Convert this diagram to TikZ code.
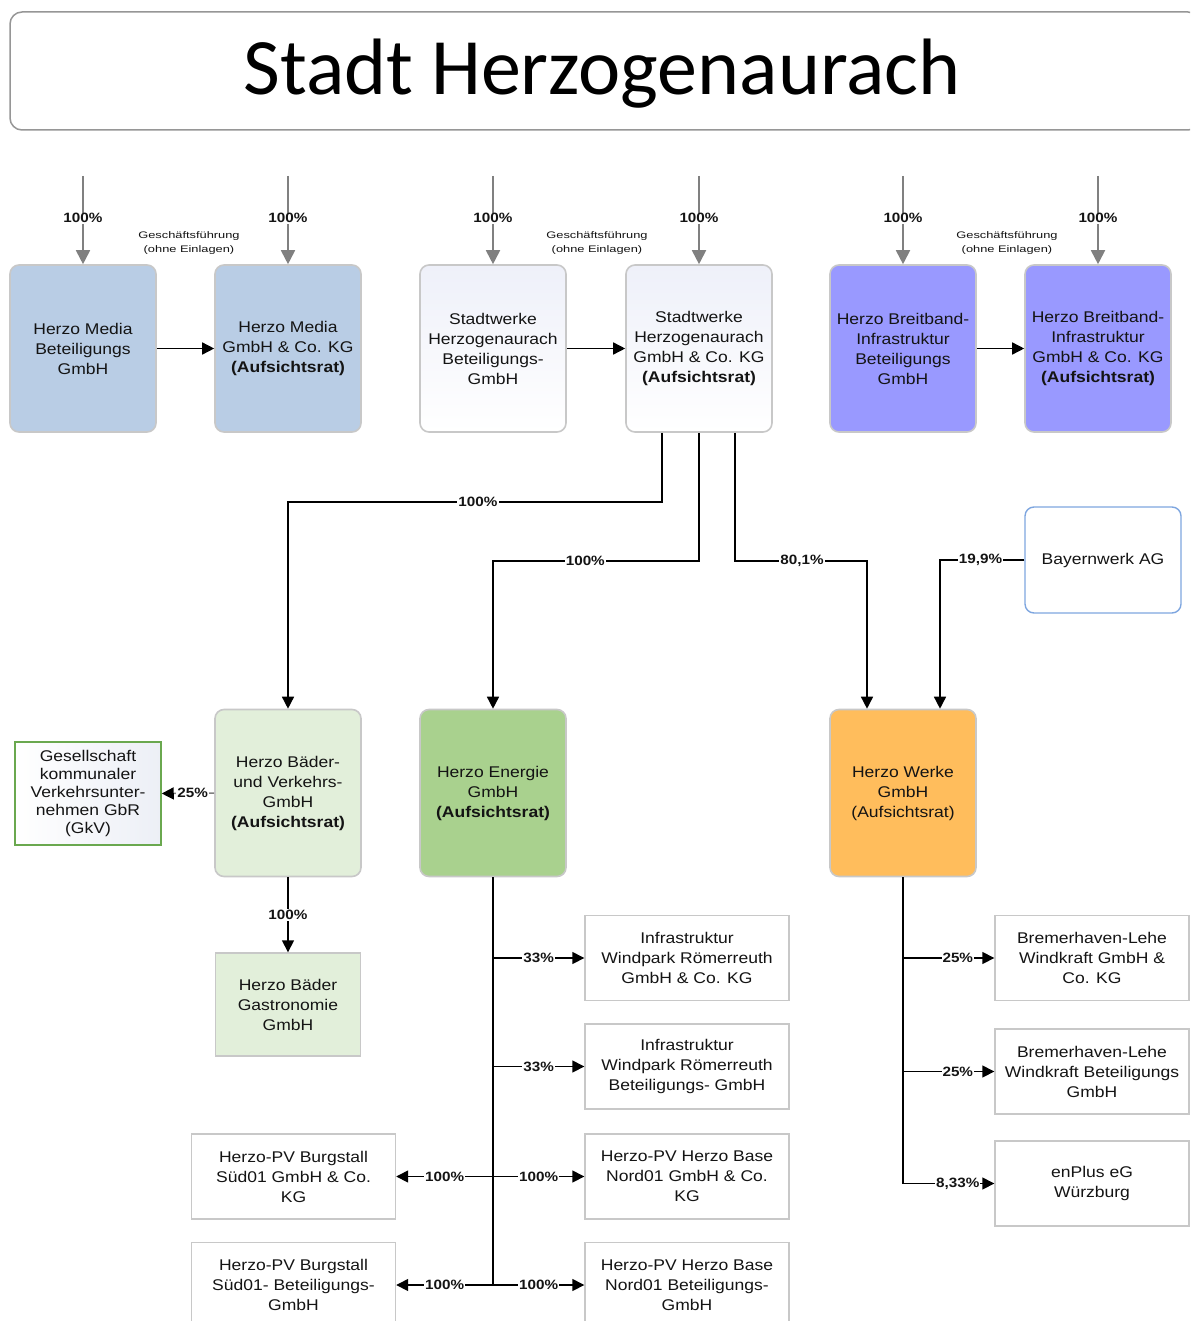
\documentclass[tikz,border=0pt]{standalone}
\usepackage{fontspec}
\setmainfont{Liberation Sans}[FakeStretch=1.13]
\newfontfamily\titlefont{Carlito}
\newfontfamily\gffont{Liberation Sans}[FakeStretch=1.35]
\usetikzlibrary{arrows.meta,calc}
\definecolor{mediablue}{RGB}{185,205,229}
\definecolor{breit}{RGB}{153,153,255}
\definecolor{swtop}{RGB}{238,240,249}
\definecolor{baeder}{RGB}{226,239,218}
\definecolor{energie}{RGB}{169,209,142}
\definecolor{werke}{RGB}{255,189,92}
\definecolor{boxgray}{RGB}{200,200,200}
\definecolor{titlegray}{RGB}{150,150,150}
\definecolor{arrowgray}{RGB}{128,128,128}
\definecolor{gkvgreen}{RGB}{106,168,79}
\definecolor{gkvfill}{RGB}{236,239,246}
\definecolor{bayblue}{RGB}{126,166,224}
\definecolor{textc}{RGB}{20,20,20}
\tikzset{
  box/.style={draw=boxgray, line width=1.6pt, rounded corners=9pt, minimum width=146pt, minimum height=167pt, align=center, inner sep=2pt, text=textc, font=\fontsize{15.5}{20}\selectfont},
  subbox/.style={draw=boxgray, line width=1.4pt, fill=white, minimum width=204pt, minimum height=85pt, align=center, inner sep=2pt, text=textc, font=\fontsize{15.5}{20}\selectfont},
  conn/.style={draw=black, line width=1.5pt, -{Triangle[length=12pt,width=12pt]}},
  topconn/.style={draw=arrowgray, line width=1.8pt, -{Triangle[length=14pt,width=14pt]}},
  lbl/.style={fill=white, inner sep=1pt, text=textc, font=\bfseries\fontsize{13.5}{15}\selectfont},
  gf/.style={align=center, text=textc, font=\gffont\fontsize{9.5}{13.5}\selectfont},
}
\begin{document}
\begin{tikzpicture}[x=1pt,y=-1pt]
\useasboundingbox (0,0) rectangle (1190,1321);
\clip (0,0) rectangle (1190,1321);
\fill[white] (0,0) rectangle (1190,1321);

% title
\node[draw=titlegray, line width=1.5pt, rounded corners=12pt, minimum width=1190pt, minimum height=118pt] (titlebox) at (605,71) {};
\node[anchor=base, font=\titlefont\fontsize{80}{82}\selectfont] (titletext) at (602,95) {Stadt Herzogenaurach};

% top row
\node[box, fill=mediablue] (hmb) at (83,348.5) {Herzo Media\\Beteiligungs\\GmbH};
\node[box, fill=mediablue] (hmkg) at (288,348.5) {Herzo Media\\GmbH \& Co. KG\\\textbf{(Aufsichtsrat)}};
\node[box, top color=swtop, bottom color=white] (swb) at (493,348.5) {Stadtwerke\\Herzogenaurach\\Beteiligungs-\\GmbH};
\node[box, top color=swtop, bottom color=white] (swkg) at (699,348.5) {Stadtwerke\\Herzogenaurach\\GmbH \& Co. KG\\\textbf{(Aufsichtsrat)}};
\node[box, fill=breit] (hbb) at (903,348.5) {Herzo Breitband-\\Infrastruktur\\Beteiligungs\\GmbH};
\node[box, fill=breit] (hbkg) at (1098,348.5) {Herzo Breitband-\\Infrastruktur\\GmbH \& Co. KG\\\textbf{(Aufsichtsrat)}};

% top incoming arrows
\foreach \n/\x in {hmb/83,hmkg/288,swb/493,swkg/699,hbb/903,hbkg/1098}{
  \coordinate (src\n) at (\x,176);
  \draw[topconn] (src\n) -- node[lbl,pos=0.48]{100\%} (\n.north);
}

% Geschaeftsfuehrung notes
\node[gf] (gf1) at (189,243) {Geschäftsführung\\(ohne Einlagen)};
\node[gf] (gf2) at (597,243) {Geschäftsführung\\(ohne Einlagen)};
\node[gf] (gf3) at (1007,243) {Geschäftsführung\\(ohne Einlagen)};

\draw[conn] (hmb.east) -- (hmkg.west);
\draw[conn] (swb.east) -- (swkg.west);
\draw[conn] (hbb.east) -- (hbkg.west);

% middle row
\node[box, fill=baeder] (bvg) at (288,793) {Herzo Bäder-\\und Verkehrs-\\GmbH\\\textbf{(Aufsichtsrat)}};
\node[box, fill=energie] (energie) at (493,793) {Herzo Energie\\GmbH\\\textbf{(Aufsichtsrat)}};
\node[box, fill=werke] (werke) at (903,793) {Herzo Werke\\GmbH\\(Aufsichtsrat)};
\node[draw=bayblue, line width=1.4pt, rounded corners=9pt, fill=white, minimum width=156pt, minimum height=106pt, text=textc, font=\fontsize{15.5}{20}\selectfont] (bay) at (1103,560) {Bayernwerk AG};
\node[draw=gkvgreen, line width=1.5pt, left color=white, right color=gkvfill, minimum width=146pt, minimum height=103pt, align=center, inner sep=2pt, text=textc, font=\fontsize{15.5}{18}\selectfont] (gkv) at (88,793.5) {Gesellschaft\\kommunaler\\Verkehrsunter-\\nehmen GbR\\(GkV)};
\node[draw=boxgray, line width=1.4pt, fill=baeder, minimum width=145pt, minimum height=103pt, align=center, inner sep=2pt, text=textc, font=\fontsize{15.5}{20}\selectfont] (gastro) at (288,1004.5) {Herzo Bäder\\Gastronomie\\GmbH};

% Stadtwerke distribution
\draw[conn] ($(swkg.south)+(-37,0)$) -- ++(0,69) -| node[lbl,pos=0.246]{100\%} (bvg.north);
\draw[conn] (swkg.south) -- ++(0,128) -| node[lbl,pos=0.276]{100\%} (energie.north);
\draw[conn] ($(swkg.south)+(36,0)$) -- ++(0,128) -| node[lbl,pos=0.254]{80,1\%} ($(werke.north)+(-36,0)$);
\draw[conn] (bay.west) -| node[lbl,pos=0.26]{19,9\%} ($(werke.north)+(37,0)$);

% Baeder
\draw[draw=arrowgray, line width=1.5pt, -{Triangle[length=12pt,width=12pt,color=black]}] (bvg.west) -- node[lbl,pos=0.41]{25\%} (gkv.east);
\draw[conn] (bvg.south) -- node[lbl]{100\%} (gastro.north);

% Energie subsidiaries
\node[subbox] (iw1) at (687,958) {Infrastruktur\\Windpark Römerreuth\\GmbH \& Co. KG};
\node[subbox] (iw2) at (687,1066.5) {Infrastruktur\\Windpark Römerreuth\\Beteiligungs- GmbH};
\node[subbox] (pvn1) at (687,1176.5) {Herzo-PV Herzo Base\\Nord01 GmbH \& Co.\\KG};
\node[subbox] (pvn2) at (687,1285) {Herzo-PV Herzo Base\\Nord01 Beteiligungs-\\GmbH};
\node[subbox] (pvs1) at (293.5,1176.5) {Herzo-PV Burgstall\\Süd01 GmbH \& Co.\\KG};
\node[subbox] (pvs2) at (293.5,1285) {Herzo-PV Burgstall\\Süd01- Beteiligungs-\\GmbH};

\draw[conn] (energie.south) |- node[lbl,pos=0.75]{33\%} (iw1.west);
\draw[conn] (energie.south) |- node[lbl,pos=0.75]{33\%} (iw2.west);
\draw[conn] (energie.south) |- node[lbl,pos=0.75]{100\%} (pvn1.west);
\draw[conn] (energie.south) |- node[lbl,pos=0.75]{100\%} (pvn2.west);
\draw[conn] (energie.south) |- node[lbl,pos=0.75]{100\%} (pvs1.east);
\draw[conn] (energie.south) |- node[lbl,pos=0.75]{100\%} (pvs2.east);

% Werke subsidiaries
\node[subbox, minimum width=194pt] (bl1) at (1092,958) {Bremerhaven-Lehe\\Windkraft GmbH \&\\Co. KG};
\node[subbox, minimum width=194pt] (bl2) at (1092,1071.5) {Bremerhaven-Lehe\\Windkraft Beteiligungs\\GmbH};
\node[subbox, minimum width=194pt] (enp) at (1092,1183.5) {enPlus eG\\Würzburg};

\draw[conn] (werke.south) |- node[lbl,pos=0.8]{25\%} (bl1.west);
\draw[conn] (werke.south) |- node[lbl,pos=0.8]{25\%} (bl2.west);
\draw[conn] (werke.south) |- node[lbl,pos=0.8]{8,33\%} (enp.west);
\end{tikzpicture}
\end{document}
